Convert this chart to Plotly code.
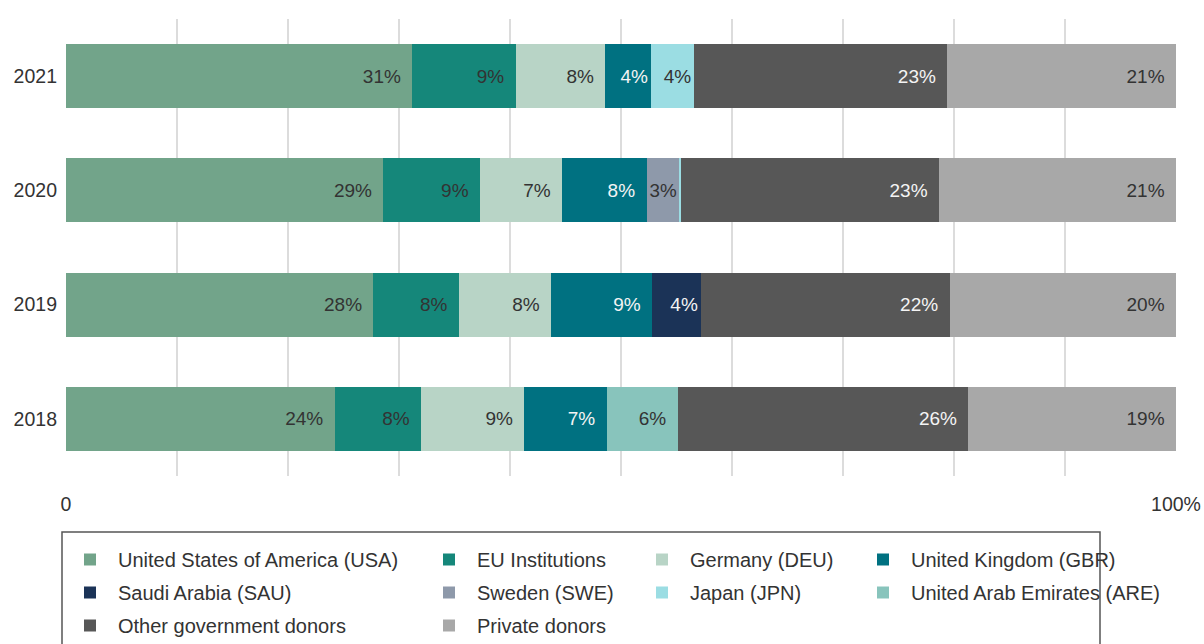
import plotly.graph_objects as go

years = ["2018", "2019", "2020", "2021"]

donors = [
    "United States of America (USA)", "EU Institutions", "Germany (DEU)",
    "United Kingdom (GBR)", "Saudi Arabia (SAU)", "Sweden (SWE)",
    "Japan (JPN)", "United Arab Emirates (ARE)", "Other government donors",
    "Private donors",
]

# shares in percent, per year in order 2018, 2019, 2020, 2021
usa     = [24.2, 27.7, 28.6, 31.2]
eu      = [7.8, 7.7, 8.7, 9.3]
deu     = [9.3, 8.3, 7.4, 8.1]
gbr     = [7.4, 9.1, 7.6, 4.1]
sau     = [0.0, 4.4, 0.0, 0.0]
swe     = [0.0, 0.0, 3.0, 0.0]
jpn     = [0.0, 0.0, 0.15, 3.9]
are     = [6.4, 0.0, 0.0, 0.0]
other   = [26.2, 22.4, 23.2, 22.8]
private = [18.7, 20.4, 21.35, 20.6]

series = [usa, eu, deu, gbr, sau, swe, jpn, are, other, private]

colors = ["#72a48a", "#15877a", "#b8d4c6", "#007181", "#1b3357",
          "#8e99aa", "#9bdde3", "#88c4bc", "#575757", "#a8a8a8"]
label_colors = ["#333333", "#333333", "#333333", "#f4f4f4", "#f4f4f4",
                "#333333", "#333333", "#333333", "#f4f4f4", "#333333"]

legend_cols = ["legend", "legend2", "legend3", "legend4",
               "legend", "legend2", "legend3", "legend4",
               "legend", "legend2"]

FONT = "Liberation Sans, Arial, sans-serif"

fig = go.Figure()
for i, (name, vals) in enumerate(zip(donors, series)):
    texts = []
    for v in vals:
        if v < 1:
            texts.append("")
        elif v > 6:
            texts.append(f"{round(v)}%\u00a0\u2006")
        else:
            texts.append(f"{round(v)}%")
    fig.add_trace(go.Bar(
        y=years, x=vals, name=name, orientation="h",
        marker=dict(color=colors[i], line=dict(width=0)),
        text=texts, textposition="inside", insidetextanchor="end",
        textangle=0,
        textfont=dict(color=label_colors[i], size=19, family=FONT),
        hoverinfo="skip", legend=legend_cols[i], legendgroup=name,
        cliponaxis=False,
    ))

W, H = 1204, 644
L, R, T, B = 66, 28, 19, 168
pw, ph = W - L - R, H - T - B

def px_x(p):
    return (p - L) / pw

def px_y(p):
    return (H - B - p) / ph

legend_common = dict(
    orientation="v", yanchor="top", xanchor="left",
    font=dict(size=20, color="#333333", family=FONT),
    bgcolor="rgba(0,0,0,0)", tracegroupgap=4, traceorder="grouped",
    itemwidth=46,
)
lx = [62, 421, 634, 855]
legs = {}
for k, key in enumerate(["legend", "legend2", "legend3", "legend4"]):
    legs[key] = dict(legend_common, x=px_x(lx[k]), y=px_y(540))

fig.update_layout(
    width=W, height=H,
    margin=dict(l=L, r=R, t=T, b=B, autoexpand=False),
    barmode="stack", bargap=0.44,
    plot_bgcolor="white", paper_bgcolor="white",
    font=dict(family=FONT, color="#333333", size=19),
    xaxis=dict(
        range=[0, 100], tickvals=list(range(0, 101, 10)),
        ticktext=["0"] + [""] * 9 + ["100%"],
        showgrid=True, gridcolor="#dcdcdc", gridwidth=1.5,
        zeroline=False, showline=False, ticks="",
        ticklabelstandoff=14, automargin=False,
        tickfont=dict(size=19.5, color="#333333", family=FONT),
        fixedrange=True,
    ),
    yaxis=dict(
        categoryorder="array", categoryarray=years,
        showgrid=False, zeroline=False, showline=False, ticks="",
        ticklabelstandoff=8, automargin=False,
        tickfont=dict(size=19.5, color="#333333", family=FONT),
        fixedrange=True,
    ),
    showlegend=True,
    shapes=[dict(type="rect", xref="paper", yref="paper",
                 x0=px_x(62), x1=px_x(1100), y0=px_y(660), y1=px_y(532),
                 line=dict(color="#555555", width=1.5), fillcolor="rgba(0,0,0,0)",
                 layer="below")],
    **legs,
)

fig.write_html(
    "out.html",
    config={"displayModeBar": False},
    post_script="document.body.style.margin='0';document.body.style.overflow='hidden';",
)
